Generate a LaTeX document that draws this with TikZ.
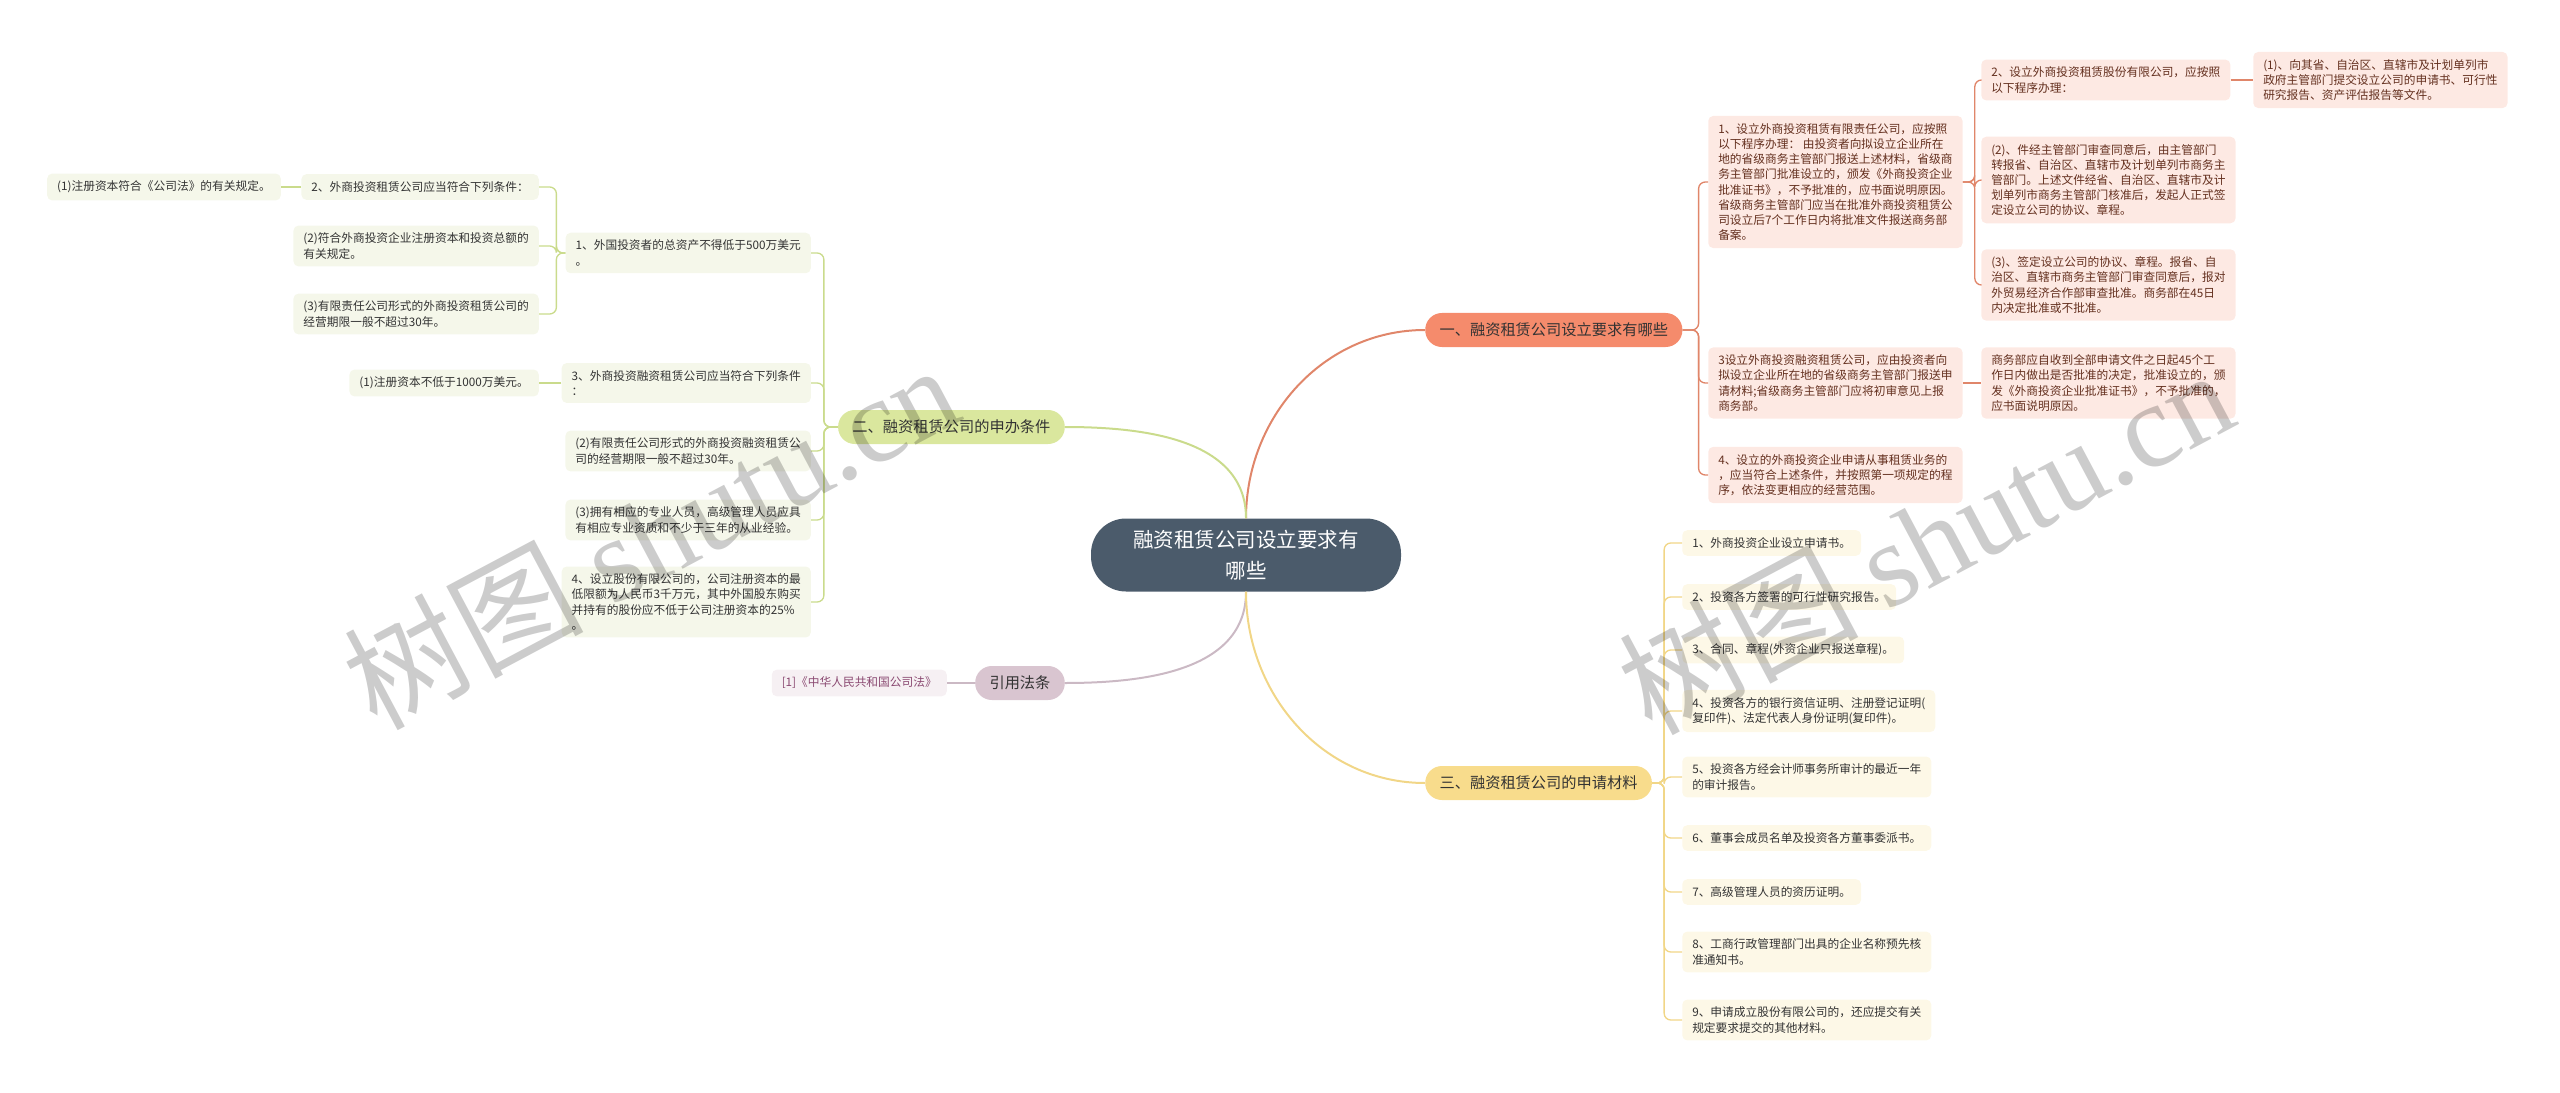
\documentclass[tikz,border=0pt]{standalone}
\usepackage{fontspec}
\setmainfont{Noto Sans CJK SC}
\newfontfamily\wmserif{Liberation Serif}

\definecolor{rootc}{HTML}{4B5B6B}
\definecolor{onefill}{HTML}{F58B6C}
\definecolor{oneleaf}{HTML}{FDE9E3}
\definecolor{oneline}{HTML}{E0866A}
\definecolor{onetext}{HTML}{64301F}
\definecolor{twofill}{HTML}{DAE79E}
\definecolor{twoleaf}{HTML}{F5F7EA}
\definecolor{twoline}{HTML}{CADB8C}
\definecolor{threefill}{HTML}{F8DC8C}
\definecolor{threeleaf}{HTML}{FDF8E7}
\definecolor{threeline}{HTML}{F1D687}
\definecolor{citefill}{HTML}{D9C5D0}
\definecolor{citeleaf}{HTML}{F6F0F3}
\definecolor{citeline}{HTML}{CBB9C4}
\definecolor{citetext}{HTML}{8B4A72}
\definecolor{bodytext}{HTML}{333333}

\begin{document}
\begin{tikzpicture}[x=0.3mm, y=-0.3mm,
    rootbox/.style={fill=rootc, text=white, rounded corners=10.5mm, minimum width=93mm,
        minimum height=21.9mm, align=center, inner sep=0pt, font=\fontsize{17.5}{26.4}\selectfont},
    mainbox/.style={rounded corners=5mm, minimum height=10.2mm, inner xsep=4.3mm, inner ysep=0pt,
        text=bodytext, font=\fontsize{13}{15}\selectfont},
    leafbox/.style={rounded corners=1.5mm, inner xsep=3mm, inner ysep=2.2mm, align=left,
        text=bodytext, font=\fontsize{10}{13}\selectfont},
    trunk/.style={draw=#1, line width=0.6mm},
    twig/.style={draw=#1, line width=0.4mm, rounded corners=2mm},
    wm/.style={text=black, opacity=0.2, rotate=28, font=\fontsize{102}{106}\selectfont}
]
    \useasboundingbox (0,0) rectangle (2560,1093);

    % --- Root ---
    \node[rootbox] (root) at (1246,555) {融资租赁公司设立要求有\\哪些};

    % --- Main branches ---
    \node[mainbox, fill=onefill, anchor=west] (one) at (1425,330) {一、融资租赁公司设立要求有哪些};
    \node[mainbox, fill=twofill, anchor=east] (two) at (1065,427) {二、融资租赁公司的申办条件};
    \node[mainbox, fill=citefill, anchor=east] (cite) at (1065,683) {引用法条};
    \node[mainbox, fill=threefill, anchor=west] (three) at (1425,783) {三、融资租赁公司的申请材料};

    % --- Branch one: leaves ---
    \node[leafbox, fill=oneleaf, text=onetext, anchor=west] (oneA) at (1708,182) {1、设立外商投资租赁有限责任公司，应按照\\以下程序办理： 由投资者向拟设立企业所在\\地的省级商务主管部门报送上述材料，省级商\\务主管部门批准设立的，颁发《外商投资企业\\批准证书》，不予批准的，应书面说明原因。\\省级商务主管部门应当在批准外商投资租赁公\\司设立后7个工作日内将批准文件报送商务部\\备案。};
    \node[leafbox, fill=oneleaf, text=onetext, anchor=west] (oneB) at (1708,383) {3设立外商投资融资租赁公司，应由投资者向\\拟设立企业所在地的省级商务主管部门报送申\\请材料;省级商务主管部门应将初审意见上报\\商务部。};
    \node[leafbox, fill=oneleaf, text=onetext, anchor=west] (oneC) at (1708,475) {4、设立的外商投资企业申请从事租赁业务的\\，应当符合上述条件，并按照第一项规定的程\\序，依法变更相应的经营范围。};

    \node[leafbox, fill=oneleaf, text=onetext, anchor=west] (oneAa) at (1981,80) {2、设立外商投资租赁股份有限公司，应按照\\以下程序办理：};
    \node[leafbox, fill=oneleaf, text=onetext, anchor=west] (oneAb) at (1981,180) {(2)、件经主管部门审查同意后，由主管部门\\转报省、自治区、直辖市及计划单列市商务主\\管部门。上述文件经省、自治区、直辖市及计\\划单列市商务主管部门核准后，发起人正式签\\定设立公司的协议、章程。};
    \node[leafbox, fill=oneleaf, text=onetext, anchor=west] (oneAc) at (1981,285) {(3)、签定设立公司的协议、章程。报省、自\\治区、直辖市商务主管部门审查同意后，报对\\外贸易经济合作部审查批准。商务部在45日\\内决定批准或不批准。};
    \node[leafbox, fill=oneleaf, text=onetext, anchor=west] (oneBa) at (1981,383) {商务部应自收到全部申请文件之日起45个工\\作日内做出是否批准的决定，批准设立的，颁\\发《外商投资企业批准证书》，不予批准的，\\应书面说明原因。};
    \node[leafbox, fill=oneleaf, text=onetext, anchor=west] (oneAa1) at (2253,80) {(1)、向其省、自治区、直辖市及计划单列市\\政府主管部门提交设立公司的申请书、可行性\\研究报告、资产评估报告等文件。};

    % --- Branch two: leaves ---
    \node[leafbox, fill=twoleaf, anchor=east] (twoA) at (811,253) {1、外国投资者的总资产不得低于500万美元\\。};
    \node[leafbox, fill=twoleaf, anchor=east] (twoB) at (811,383) {3、外商投资融资租赁公司应当符合下列条件\\：};
    \node[leafbox, fill=twoleaf, anchor=east] (twoC) at (811,451) {(2)有限责任公司形式的外商投资融资租赁公\\司的经营期限一般不超过30年。};
    \node[leafbox, fill=twoleaf, anchor=east] (twoD) at (811,520) {(3)拥有相应的专业人员，高级管理人员应具\\有相应专业资质和不少于三年的从业经验。};
    \node[leafbox, fill=twoleaf, anchor=east] (twoE) at (811,602) {4、设立股份有限公司的，公司注册资本的最\\低限额为人民币3千万元，其中外国股东购买\\并持有的股份应不低于公司注册资本的25\%\\。};

    \node[leafbox, fill=twoleaf, anchor=east] (twoAa) at (539,187) {2、外商投资租赁公司应当符合下列条件：};
    \node[leafbox, fill=twoleaf, anchor=east] (twoAb) at (539,246) {(2)符合外商投资企业注册资本和投资总额的\\有关规定。};
    \node[leafbox, fill=twoleaf, anchor=east] (twoAc) at (539,314) {(3)有限责任公司形式的外商投资租赁公司的\\经营期限一般不超过30年。};
    \node[leafbox, fill=twoleaf, anchor=east] (twoBa) at (539,383) {(1)注册资本不低于1000万美元。};
    \node[leafbox, fill=twoleaf, anchor=east] (twoAa1) at (281,187) {(1)注册资本符合《公司法》的有关规定。};

    % --- Cited law ---
    \node[leafbox, fill=citeleaf, text=citetext, anchor=east] (citeA) at (947,683) {[1]《中华人民共和国公司法》};

    % --- Branch three: leaves ---
    \node[leafbox, fill=threeleaf, anchor=west] (thrA) at (1682,543) {1、外商投资企业设立申请书。};
    \node[leafbox, fill=threeleaf, anchor=west] (thrB) at (1682,597) {2、投资各方签署的可行性研究报告。};
    \node[leafbox, fill=threeleaf, anchor=west] (thrC) at (1682,650) {3、合同、章程(外资企业只报送章程)。};
    \node[leafbox, fill=threeleaf, anchor=west] (thrD) at (1682,711) {4、投资各方的银行资信证明、注册登记证明(\\复印件)、法定代表人身份证明(复印件)。};
    \node[leafbox, fill=threeleaf, anchor=west] (thrE) at (1682,777) {5、投资各方经会计师事务所审计的最近一年\\的审计报告。};
    \node[leafbox, fill=threeleaf, anchor=west] (thrF) at (1682,838) {6、董事会成员名单及投资各方董事委派书。};
    \node[leafbox, fill=threeleaf, anchor=west] (thrG) at (1682,892) {7、高级管理人员的资历证明。};
    \node[leafbox, fill=threeleaf, anchor=west] (thrH) at (1682,952) {8、工商行政管理部门出具的企业名称预先核\\准通知书。};
    \node[leafbox, fill=threeleaf, anchor=west] (thrI) at (1682,1020) {9、申请成立股份有限公司的，还应提交有关\\规定要求提交的其他材料。};

    % --- Root to branches ---
    \draw[trunk=oneline] (root.north) to[out=90, in=180] (one.west);
    \draw[trunk=twoline] (root.north) to[out=90, in=0] (two.east);
    \draw[trunk=citeline] (root.south) to[out=-90, in=0] (cite.east);
    \draw[trunk=threeline] (root.south) to[out=-90, in=180] (three.west);

    % --- Branch one connectors ---
    \draw[twig=oneline] (one.east) -- ++(16,0) |- (oneA.west);
    \draw[twig=oneline] (one.east) -- ++(16,0) |- (oneB.west);
    \draw[twig=oneline] (one.east) -- ++(16,0) |- (oneC.west);
    \draw[twig=oneline] (oneA.east) -- ++(12,0) |- (oneAa.west);
    \draw[twig=oneline] (oneA.east) -- ++(12,0) |- (oneAb.west);
    \draw[twig=oneline] (oneA.east) -- ++(12,0) |- (oneAc.west);
    \draw[twig=oneline] (oneB.east) -- (oneBa.west);
    \draw[twig=oneline] (oneAa.east) -- (oneAa1.west);

    % --- Branch two connectors ---
    \draw[twig=twoline] (two.west) -- ++(-14,0) |- (twoA.east);
    \draw[twig=twoline] (two.west) -- ++(-14,0) |- (twoB.east);
    \draw[twig=twoline] (two.west) -- ++(-14,0) |- (twoC.east);
    \draw[twig=twoline] (two.west) -- ++(-14,0) |- (twoD.east);
    \draw[twig=twoline] (two.west) -- ++(-14,0) |- (twoE.east);
    \draw[twig=twoline] (twoA.west) -- ++(-9,0) |- (twoAa.east);
    \draw[twig=twoline] (twoA.west) -- ++(-9,0) |- (twoAb.east);
    \draw[twig=twoline] (twoA.west) -- ++(-9,0) |- (twoAc.east);
    \draw[twig=twoline] (twoB.west) -- (twoBa.east);
    \draw[twig=twoline] (twoAa.west) -- (twoAa1.east);

    % --- Cited law connector ---
    \draw[twig=citeline] (cite.west) -- (citeA.east);

    % --- Branch three connectors ---
    \draw[twig=threeline] (three.east) -- ++(12,0) |- (thrA.west);
    \draw[twig=threeline] (three.east) -- ++(12,0) |- (thrB.west);
    \draw[twig=threeline] (three.east) -- ++(12,0) |- (thrC.west);
    \draw[twig=threeline] (three.east) -- ++(12,0) |- (thrD.west);
    \draw[twig=threeline] (three.east) -- ++(12,0) |- (thrE.west);
    \draw[twig=threeline] (three.east) -- ++(12,0) |- (thrF.west);
    \draw[twig=threeline] (three.east) -- ++(12,0) |- (thrG.west);
    \draw[twig=threeline] (three.east) -- ++(12,0) |- (thrH.west);
    \draw[twig=threeline] (three.east) -- ++(12,0) |- (thrI.west);

    % --- Watermarks ---
    \node[wm] (wmleft) at (650,535) {树图 {\wmserif shutu.cn}};
    \node[wm] (wmright) at (1925,540) {树图 {\wmserif shutu.cn}};
\end{tikzpicture}
\end{document}
